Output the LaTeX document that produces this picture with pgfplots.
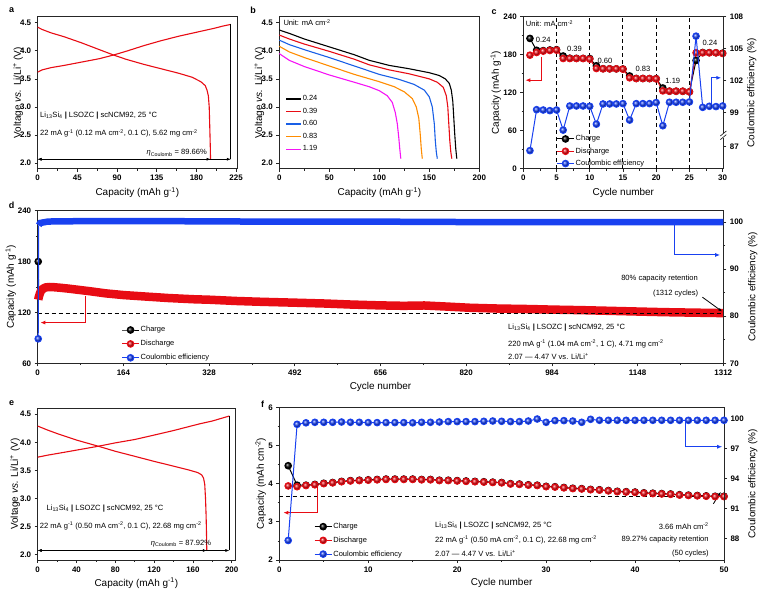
\documentclass[border=0pt]{standalone}
\usepackage{pgfplots}
\pgfplotsset{compat=1.18}
\usepackage{fontspec}
\setmainfont{Liberation Sans}
\usetikzlibrary{arrows.meta}

\definecolor{cred}{RGB}{232,12,20}
\definecolor{cblue}{RGB}{25,65,240}
\definecolor{bblue}{RGB}{25,95,230}
\definecolor{corange}{RGB}{255,140,0}
\definecolor{cmag}{RGB}{245,20,245}
\newcommand{\ann}{\fontsize{7.6}{8.6}\selectfont}

\tikzset{dbl/.style={{Latex[length=4bp,width=3bp]}-{Latex[length=4bp,width=3bp]}, line width=0.6bp, black}}

\pgfplotsset{
  panel/.style={
    scale only axis, tick pos=left, tick align=outside,
    axis line style={line width=0.8bp, black!85},
    tick style={line width=0.7bp, black!85},
    major tick length=3bp, minor tick length=1.8bp,
    tick label style={font=\fontsize{8}{9}\selectfont\bfseries},
    label style={font=\fontsize{10.5}{12}\selectfont\bfseries},
    /pgf/number format/assume math mode=true,
    /pgf/number format/set thousands separator={},
    clip=false,
    legend style={draw=none, fill=none, font=\fontsize{7.5}{9}\selectfont,
      row sep=1.2bp, inner sep=0pt, nodes={inner sep=1.2bp}},
    legend cell align=left,
  },
  ylab/.style={every axis y label/.style={at={(rel axis cs:0,0.5)}, xshift=-#1, rotate=90, anchor=center}},
  ylabr/.style={every axis y label/.style={at={(rel axis cs:1,0.5)}, xshift=#1, rotate=90, anchor=center}},
  xlab/.style={every axis x label/.style={at={(rel axis cs:0.5,0)}, yshift=-#1, anchor=center}},
  volt/.style={ymin=1.9, ymax=4.607, ytick={2,2.5,...,4.5},
    yticklabel style={/pgf/number format/.cd, fixed, fixed zerofill, precision=1},
    ylabel={Voltage \textit{vs.} Li/Li\textsuperscript{+} (V)},
    xlabel={Capacity (mAh g\textsuperscript{-1})}},
  ballred/.style={cred, line width=1bp, mark=ball, mark size=3.3bp, mark options={ball color=cred}},
  ballblk/.style={black, line width=1bp, mark=ball, mark size=3.3bp, mark options={ball color=black}},
  ballblu/.style={cblue, line width=1bp, mark=ball, mark size=3.3bp, mark options={ball color=cblue}},
}

\begin{document}
\begin{tikzpicture}
\path (0bp,0bp) rectangle (762bp,594bp);

% ---------------- a: first charge/discharge, 5.62 mg cm^-2
\begin{axis}[panel, volt, ylab=19.7bp, xlab=24bp,
  at={(37.7bp,425.2bp)}, anchor=south west, width=199.3bp, height=152.1bp,
  xmin=0, xmax=226, xtick={0,45,...,225}, minor x tick num=1]
\addplot[cred, line width=1.1bp] coordinates {
 (0,3.62)(5,3.66)(15,3.70)(30,3.74)(50,3.80)(70,3.86)(86,3.925)(100,3.99)
 (120,4.09)(140,4.18)(160,4.26)(180,4.33)(200,4.40)(210,4.44)(219,4.47)};
\addplot[cred, line width=1.1bp] coordinates {
 (0,4.42)(5,4.38)(15,4.32)(30,4.25)(50,4.14)(70,4.02)(86,3.925)(100,3.85)
 (120,3.76)(140,3.68)(160,3.60)(175,3.53)(185,3.45)(190,3.38)(192,3.30)
 (193.5,3.2)(194.5,3.0)(195.2,2.6)(195.7,2.3)(196,2.07)};
\draw[line width=0.8bp, black] (axis cs:219,2.07) -- (axis cs:219,4.47);
\draw[dbl] (axis cs:0,2.07) -- (axis cs:196,2.07);
\draw[dbl] (axis cs:0,2.07) -- (axis cs:219,2.07);
\node[font=\ann, anchor=west, inner sep=0pt] at (axis cs:2.6,2.84)
  {Li\textsubscript{13}Si\textsubscript{4} {\bfseries|} LSOZC {\bfseries|} scNCM92, 25 °C};
\node[font=\ann, anchor=west, inner sep=0pt] at (axis cs:2.6,2.53)
  {22 mA g\textsuperscript{-1} (0.12 mA cm\textsuperscript{-2}, 0.1 C), 5.62 mg cm\textsuperscript{-2}};
\node[font=\ann, anchor=east, inner sep=0pt] at (axis cs:192,2.18)
  {{\itshape η}\textsubscript{Coulomb} = 89.66\%};
\end{axis}

% ---------------- b: rate discharge curves
\begin{axis}[panel, volt, ylab=20bp, xlab=24bp,
  at={(279.3bp,425.2bp)}, anchor=south west, width=200.2bp, height=152.1bp,
  xmin=0, xmax=200.2, xtick={0,50,...,200}, minor x tick num=1,
  legend style={at={(rel axis cs:0.03,0.49)}, anchor=north west, row sep=3.4bp},
  legend image code/.code={\draw[#1] (0bp,0bp) -- (15bp,0bp);}]
\addplot[black, line width=1.1bp] coordinates {
 (0,4.37)(10,4.31)(25,4.21)(50,4.07)(75,3.93)(90,3.83)(110,3.74)(130,3.68)
 (150,3.61)(160,3.56)(166,3.50)(170,3.42)(172,3.30)(173.5,3.1)(174.5,2.8)
 (175.5,2.5)(176.5,2.25)(177.5,2.08)};
\addlegendentry{0.24}
\addplot[cred, line width=1.1bp] coordinates {
 (0,4.28)(10,4.21)(25,4.12)(50,3.99)(75,3.85)(90,3.75)(110,3.66)(130,3.59)
 (150,3.50)(158,3.44)(164,3.35)(167,3.2)(168.5,3.0)(169.5,2.7)(170.5,2.4)
 (171.5,2.2)(172.5,2.08)};
\addlegendentry{0.39}
\addplot[bblue, line width=1.1bp] coordinates {
 (0,4.19)(10,4.11)(25,4.02)(50,3.88)(75,3.73)(100,3.58)(120,3.49)(135,3.40)
 (145,3.30)(150,3.18)(153,3.0)(155,2.7)(156,2.4)(157,2.2)(158,2.08)};
\addlegendentry{0.60}
\addplot[corange, line width=1.1bp] coordinates {
 (0,4.08)(10,3.98)(25,3.88)(50,3.73)(75,3.58)(100,3.45)(115,3.36)(125,3.27)
 (133,3.15)(137,3.0)(139.5,2.8)(141,2.5)(142,2.25)(143,2.08)};
\addlegendentry{0.83}
\addplot[cmag, line width=1.1bp] coordinates {
 (0,3.95)(10,3.83)(25,3.72)(50,3.57)(75,3.44)(90,3.36)(100,3.29)(108,3.20)
 (113,3.08)(116,2.9)(118,2.7)(119.5,2.45)(120.5,2.25)(121.5,2.08)};
\addlegendentry{1.19}
\node[font=\ann, anchor=west, inner sep=0pt] at (axis cs:4,4.50) {Unit: mA cm\textsuperscript{-2}};
\end{axis}

% ---------------- c: rate capability, capacity
\begin{axis}[panel, ylab=27.6bp, xlab=24bp,
  at={(523.3bp,425.2bp)}, anchor=south west, width=200bp, height=152.1bp,
  xmin=0, xmax=30.1, xtick={0,5,...,30}, minor x tick num=1,
  ymin=0, ymax=240, ytick={0,60,...,240}, minor y tick num=1,
  xlabel={Cycle number}, ylabel={Capacity (mAh g\textsuperscript{-1})}]
\addplot[black, line width=1bp, dash pattern=on 4bp off 3bp, forget plot] coordinates {(5,0)(5,240)};
\addplot[black, line width=1bp, dash pattern=on 4bp off 3bp, forget plot] coordinates {(10,0)(10,240)};
\addplot[black, line width=1bp, dash pattern=on 4bp off 3bp, forget plot] coordinates {(15,0)(15,240)};
\addplot[black, line width=1bp, dash pattern=on 4bp off 3bp, forget plot] coordinates {(20,0)(20,240)};
\addplot[black, line width=1bp, dash pattern=on 4bp off 3bp, forget plot] coordinates {(25,0)(25,240)};
\addplot[ballblk] coordinates {
 (1,205.7)(2,187)(3,186.5)(4,187.5)(5,188)(6,178)(7,174.5)(8,174.3)(9,174.2)(10,174)
 (11,162.5)(12,158)(13,157.8)(14,157.7)(15,157.5)(16,146.5)(17,142.6)(18,142.5)(19,142.3)(20,142.2)
 (21,127.5)(22,122.5)(23,122.4)(24,122.3)(25,121.5)(26,171)(27,183.5)(28,183.3)(29,183.1)(30,182.5)};
\addplot[ballred] coordinates {
 (1,179.3)(2,183.5)(3,185.6)(4,186.7)(5,187.2)(6,174)(7,174)(8,174)(9,174)(10,173)
 (11,158.2)(12,157.7)(13,157.7)(14,157.7)(15,157.2)(16,143.5)(17,142.4)(18,142.4)(19,142.4)(20,141.9)
 (21,122.9)(22,122.4)(23,122.4)(24,122.4)(25,121.3)(26,183)(27,183)(28,183)(29,183)(30,182)};
\draw[cred, line width=1bp, -{Latex[length=5bp,width=4bp]}]
  (axis cs:2.76,177) -- (axis cs:2.76,139.8) -- (axis cs:0.3,139.8);
\node[font=\ann, anchor=west, inner sep=0pt] at (axis cs:0.35,229) {Unit: mA cm\textsuperscript{-2}};
\node[font=\ann] at (axis cs:3.0,204) {0.24};
\node[font=\ann] at (axis cs:7.7,189) {0.39};
\node[font=\ann] at (axis cs:12.3,170) {0.60};
\node[font=\ann] at (axis cs:18.0,158) {0.83};
\node[font=\ann] at (axis cs:22.5,138) {1.19};
\node[font=\ann] at (axis cs:28.1,198) {0.24};
\end{axis}
% c: Coulombic efficiency (broken right axis, 87 below the break)
\begin{axis}[panel, ylabr=28.4bp,
  at={(523.3bp,425.2bp)}, anchor=south west, width=200bp, height=152.1bp,
  xmin=0, xmax=30.1, ymin=93.69, ymax=108,
  axis x line=none, axis y line*=right, ytick pos=right,
  ytick={95.77,99,102,105,108}, yticklabels={87,99,102,105,108},
  ylabel={Coulombic efficiency (\%)},
  legend style={at={(rel axis cs:0.165,0.228)}, anchor=north west, row sep=3bp}]
\addlegendimage{ballblk}\addlegendentry{Charge}
\addlegendimage{ballred}\addlegendentry{Discharge}
\addplot[ballblu] coordinates {
 (1,95.4)(2,99.25)(3,99.22)(4,99.16)(5,99.22)(6,97.33)(7,99.6)(8,99.6)(9,99.6)(10,99.57)
 (11,97.89)(12,99.79)(13,99.79)(14,99.79)(15,99.82)(16,98.27)(17,99.82)(18,99.82)(19,99.82)(20,99.92)
 (21,97.74)(22,99.95)(23,99.95)(24,99.95)(25,99.98)(26,106.17)(27,99.47)(28,99.57)(29,99.54)(30,99.6)};
\addlegendentry{Coulombic efficiency}
\draw[cblue, line width=1bp, -{Latex[length=5bp,width=4bp]}]
  (axis cs:28.25,99.6) -- (axis cs:28.25,102.25) -- (axis cs:29.8,102.25);
\fill[white] ([xshift=-4bp]rel axis cs:1,0.205) rectangle ([xshift=4bp]rel axis cs:1,0.235);
\draw[line width=0.7bp, black!85] ([xshift=-3bp,yshift=-2.5bp]rel axis cs:1,0.208) -- ([xshift=3bp,yshift=2.5bp]rel axis cs:1,0.208);
\draw[line width=0.7bp, black!85] ([xshift=-3bp,yshift=-2.5bp]rel axis cs:1,0.232) -- ([xshift=3bp,yshift=2.5bp]rel axis cs:1,0.232);
\end{axis}

% ---------------- d: long-term cycling at 1 C
\begin{axis}[panel, ylab=27bp, xlab=24bp,
  at={(37.7bp,230.7bp)}, anchor=south west, width=685.6bp, height=152.6bp,
  xmin=0, xmax=1312, xtick={0,164,...,1312}, minor x tick num=1,
  ymin=60, ymax=240, ytick={60,120,180,240}, minor y tick num=1,
  xlabel={Cycle number}, ylabel={Capacity (mAh g\textsuperscript{-1})}]
\addplot[ballblk, mark indices={1}] coordinates {(1,180)(2,141)(3,145)};
\addplot[cred, line width=8.5bp, line join=round] coordinates {
 (1,135)(2,138)(4,142)(6,145)(10,148)(15,149.5)(22,150)(30,149.8)(45,149)(60,148)
 (80,146.5)(100,145)(130,142.5)(164,140.5)(200,139)(250,137)(300,135.5)(328,135)
 (380,133.5)(430,132.5)(492,131.5)(550,130.5)(600,129.3)(656,128.3)(700,127.8)
 (740,128.2)(780,127)(827,125.5)(880,124.6)(940,124)(986,123.3)(1040,122.7)
 (1100,121.8)(1152,121)(1200,120.3)(1250,119.8)(1312,119.2)};
\addplot[black, line width=1bp, dash pattern=on 4bp off 3bp] coordinates {(0,118.5)(1312,118.5)};
\draw[cred, line width=1bp, -{Latex[length=5bp,width=4bp]}]
  (axis cs:92,139.3) -- (axis cs:92,108) -- (axis cs:5,108);
\draw[black, line width=0.8bp, -{Latex[length=4bp,width=3bp]}]
  (axis cs:1272,138) -- (axis cs:1310,121);
\node[font=\ann] at (axis cs:1190,159.5) {80\% capacity retention};
\node[font=\ann] at (axis cs:1221,142.6) {(1312 cycles)};
\node[font=\ann, anchor=west, inner sep=0pt] at (axis cs:900,102)
  {Li\textsubscript{13}Si\textsubscript{4} {\bfseries|} LSOZC {\bfseries|} scNCM92, 25 °C};
\node[font=\ann, anchor=west, inner sep=0pt] at (axis cs:900,82.8)
  {220 mA g\textsuperscript{-1} (1.04 mA cm\textsuperscript{-2}, 1 C), 4.71 mg cm\textsuperscript{-2}};
\node[font=\ann, anchor=west, inner sep=0pt] at (axis cs:900,67.8)
  {2.07 — 4.47 V vs. Li/Li\textsuperscript{+}};
\end{axis}
\begin{axis}[panel, ylabr=29.4bp,
  at={(37.7bp,230.7bp)}, anchor=south west, width=685.6bp, height=152.6bp,
  xmin=0, xmax=1312, ymin=70, ymax=102.4,
  axis x line=none, axis y line*=right, ytick pos=right,
  ytick={70,80,90,100}, minor y tick num=1,
  ylabel={Coulombic efficiency (\%)},
  legend style={at={(rel axis cs:0.122,0.25)}, anchor=north west, row sep=4.6bp}]
\addlegendimage{ballblk}\addlegendentry{Charge}
\addlegendimage{ballred}\addlegendentry{Discharge}
\addlegendimage{ballblu}\addlegendentry{Coulombic efficiency}
\addplot[ballblu, mark indices={1}, forget plot] coordinates {(1,75.2)(2,99.3)};
\addplot[cblue, line width=6.5bp, forget plot] coordinates {
 (2,99.3)(5,99.8)(20,100.1)(100,100.2)(200,100.2)(400,100.1)(600,100.1)
 (800,100.0)(1000,100.0)(1200,100.0)(1312,100.0)};
\draw[cblue, line width=1bp, -{Latex[length=5bp,width=4bp]}]
  (axis cs:1219,100) -- (axis cs:1219,93) -- (axis cs:1306,93);
\end{axis}

% ---------------- e: first cycle at 22.68 mg cm^-2
\begin{axis}[panel, volt, ylab=22.7bp, xlab=23bp,
  at={(37.7bp,34bp)}, anchor=south west, width=197.3bp, height=151.7bp,
  xmin=0, xmax=203.4, xtick={0,40,...,200}, minor x tick num=1]
\addplot[cred, line width=1.1bp] coordinates {
 (0,3.735)(10,3.77)(30,3.83)(62.5,3.93)(80,3.99)(100,4.05)(119,4.125)(140,4.21)
 (167,4.33)(180,4.38)(197.6,4.47)};
\addplot[cred, line width=1.1bp] coordinates {
 (0,4.29)(10,4.22)(21,4.15)(40,4.04)(62.5,3.93)(80,3.84)(99,3.755)(120,3.66)
 (140,3.575)(155,3.51)(165,3.46)(169,3.42)(171,3.36)(172.2,3.25)(173,3.0)
 (173.6,2.7)(174,2.4)(174.3,2.07)};
\draw[line width=0.8bp, black] (axis cs:197.6,2.07) -- (axis cs:197.6,4.47);
\draw[dbl] (axis cs:0,2.07) -- (axis cs:174.3,2.07);
\draw[dbl] (axis cs:0,2.07) -- (axis cs:197.6,2.07);
\node[font=\ann, anchor=west, inner sep=0pt] at (axis cs:9,2.82)
  {Li\textsubscript{13}Si\textsubscript{4} {\bfseries|} LSOZC {\bfseries|} scNCM92, 25 °C};
\node[font=\ann, anchor=west, inner sep=0pt] at (axis cs:2,2.51)
  {22 mA g\textsuperscript{-1} (0.50 mA cm\textsuperscript{-2}, 0.1 C), 22.68 mg cm\textsuperscript{-2}};
\node[font=\ann, anchor=east, inner sep=0pt] at (axis cs:179,2.19)
  {{\itshape η}\textsubscript{Coulomb} = 87.92\%};
\end{axis}

% ---------------- f: areal capacity cycling
\begin{axis}[panel, ylab=18.6bp, xlab=23.3bp,
  at={(279.3bp,34bp)}, anchor=south west, width=444.7bp, height=152.7bp,
  xmin=0, xmax=50, xtick={0,10,...,50}, minor x tick num=1,
  ymin=2, ymax=6, ytick={2,3,4,5,6}, minor y tick num=1,
  xlabel={Cycle number}, ylabel={Capacity (mAh cm\textsuperscript{-2})}]
\addplot[black, line width=1bp, dash pattern=on 4bp off 3bp] coordinates {(0,3.66)(50,3.66)};
\addplot[ballblk] coordinates {
 (1,4.47)(2,3.96)(3,3.96)(4,3.98)(5,4.01)(6,4.03)(7,4.06)(8,4.08)(9,4.09)(10,4.10)
 (11,4.11)(12,4.12)(13,4.12)(14,4.12)(15,4.12)(16,4.11)(17,4.11)(18,4.09)(19,4.09)(20,4.08)
 (21,4.07)(22,4.06)(23,4.05)(24,4.04)(25,4.03)(26,4.00)(27,3.99)(28,3.97)(29,3.96)(30,3.93)
 (31,3.92)(32,3.90)(33,3.88)(34,3.87)(35,3.85)(36,3.84)(37,3.82)(38,3.80)(39,3.79)(40,3.78)
 (41,3.76)(42,3.75)(43,3.74)(44,3.73)(45,3.71)(46,3.70)(47,3.69)(48,3.68)(49,3.67)(50,3.67)};
\addplot[ballred] coordinates {
 (1,3.94)(2,3.92)(3,3.95)(4,3.97)(5,4.00)(6,4.02)(7,4.05)(8,4.07)(9,4.08)(10,4.09)
 (11,4.10)(12,4.11)(13,4.11)(14,4.11)(15,4.11)(16,4.10)(17,4.10)(18,4.08)(19,4.08)(20,4.07)
 (21,4.06)(22,4.05)(23,4.04)(24,4.03)(25,4.02)(26,3.99)(27,3.98)(28,3.96)(29,3.95)(30,3.92)
 (31,3.91)(32,3.89)(33,3.87)(34,3.86)(35,3.84)(36,3.83)(37,3.81)(38,3.79)(39,3.78)(40,3.77)
 (41,3.75)(42,3.74)(43,3.73)(44,3.72)(45,3.70)(46,3.69)(47,3.68)(48,3.67)(49,3.66)(50,3.66)};
\draw[cred, line width=1bp, -{Latex[length=5bp,width=4bp]}]
  (axis cs:4.27,3.98) -- (axis cs:4.27,3.24) -- (axis cs:0.45,3.24);
\draw[black, line width=0.8bp, -{Latex[length=4bp,width=3bp]}]
  (axis cs:48.8,3.47) -- (axis cs:49.65,3.79);
\node[font=\ann, anchor=west, inner sep=0pt] at (axis cs:17.5,2.9)
  {Li\textsubscript{13}Si\textsubscript{4} {\bfseries|} LSOZC {\bfseries|} scNCM92, 25 °C};
\node[font=\ann, anchor=west, inner sep=0pt] at (axis cs:17.5,2.52)
  {22 mA g\textsuperscript{-1} (0.50 mA cm\textsuperscript{-2}, 0.1 C), 22.68 mg cm\textsuperscript{-2}};
\node[font=\ann, anchor=west, inner sep=0pt] at (axis cs:17.5,2.18)
  {2.07 — 4.47 V vs. Li/Li\textsuperscript{+}};
\node[font=\ann, anchor=east, inner sep=0pt] at (axis cs:48.3,2.88) {3.66 mAh cm\textsuperscript{-2}};
\node[font=\ann, anchor=east, inner sep=0pt] at (axis cs:48.3,2.53) {89.27\% capacity retention};
\node[font=\ann, anchor=east, inner sep=0pt] at (axis cs:48.3,2.18) {(50 cycles)};
\end{axis}
\begin{axis}[panel, ylabr=28.7bp,
  at={(279.3bp,34bp)}, anchor=south west, width=444.7bp, height=152.7bp,
  xmin=0, xmax=50, ymin=85.85, ymax=101.1,
  axis x line=none, axis y line*=right, ytick pos=right,
  ytick={88,91,94,97,100},
  ylabel={Coulombic efficiency (\%)},
  legend style={at={(rel axis cs:0.078,0.25)}, anchor=north west, row sep=4.4bp}]
\addlegendimage{ballblk}\addlegendentry{Charge}
\addlegendimage{ballred}\addlegendentry{Discharge}
\addplot[ballblu] coordinates {
 (1,87.8)(2,99.4)(3,99.55)(4,99.6)(5,99.6)(6,99.6)(7,99.63)(8,99.6)(9,99.6)(10,99.57)
 (11,99.57)(12,99.57)(13,99.57)(14,99.57)(15,99.55)(16,99.6)(17,99.6)(18,99.63)(19,99.67)(20,99.67)
 (21,99.67)(22,99.67)(23,99.7)(24,99.73)(25,99.7)(26,99.67)(27,99.67)(28,99.73)(29,99.93)(30,99.6)
 (31,99.77)(32,99.77)(33,99.73)(34,99.6)(35,99.9)(36,99.8)(37,99.8)(38,99.8)(39,99.8)(40,99.8)
 (41,99.8)(42,99.8)(43,99.8)(44,99.8)(45,99.8)(46,99.8)(47,99.8)(48,99.8)(49,99.8)(50,99.8)};
\addlegendentry{Coulombic efficiency}
\draw[cblue, line width=1bp, -{Latex[length=5bp,width=4bp]}]
  (axis cs:45.7,99.75) -- (axis cs:45.7,97.16) -- (axis cs:49.8,97.16);
\end{axis}

% panel letters
\begin{scope}[every node/.style={font=\fontsize{9}{10}\selectfont\bfseries, inner sep=0pt}]
\node at (11.7bp,584bp) {a};
\node at (253bp,584bp) {b};
\node at (494bp,582.3bp) {c};
\node at (11.7bp,389bp) {d};
\node at (11.7bp,191bp) {e};
\node at (262.7bp,190bp) {f};
\end{scope}
\end{tikzpicture}
\end{document}
